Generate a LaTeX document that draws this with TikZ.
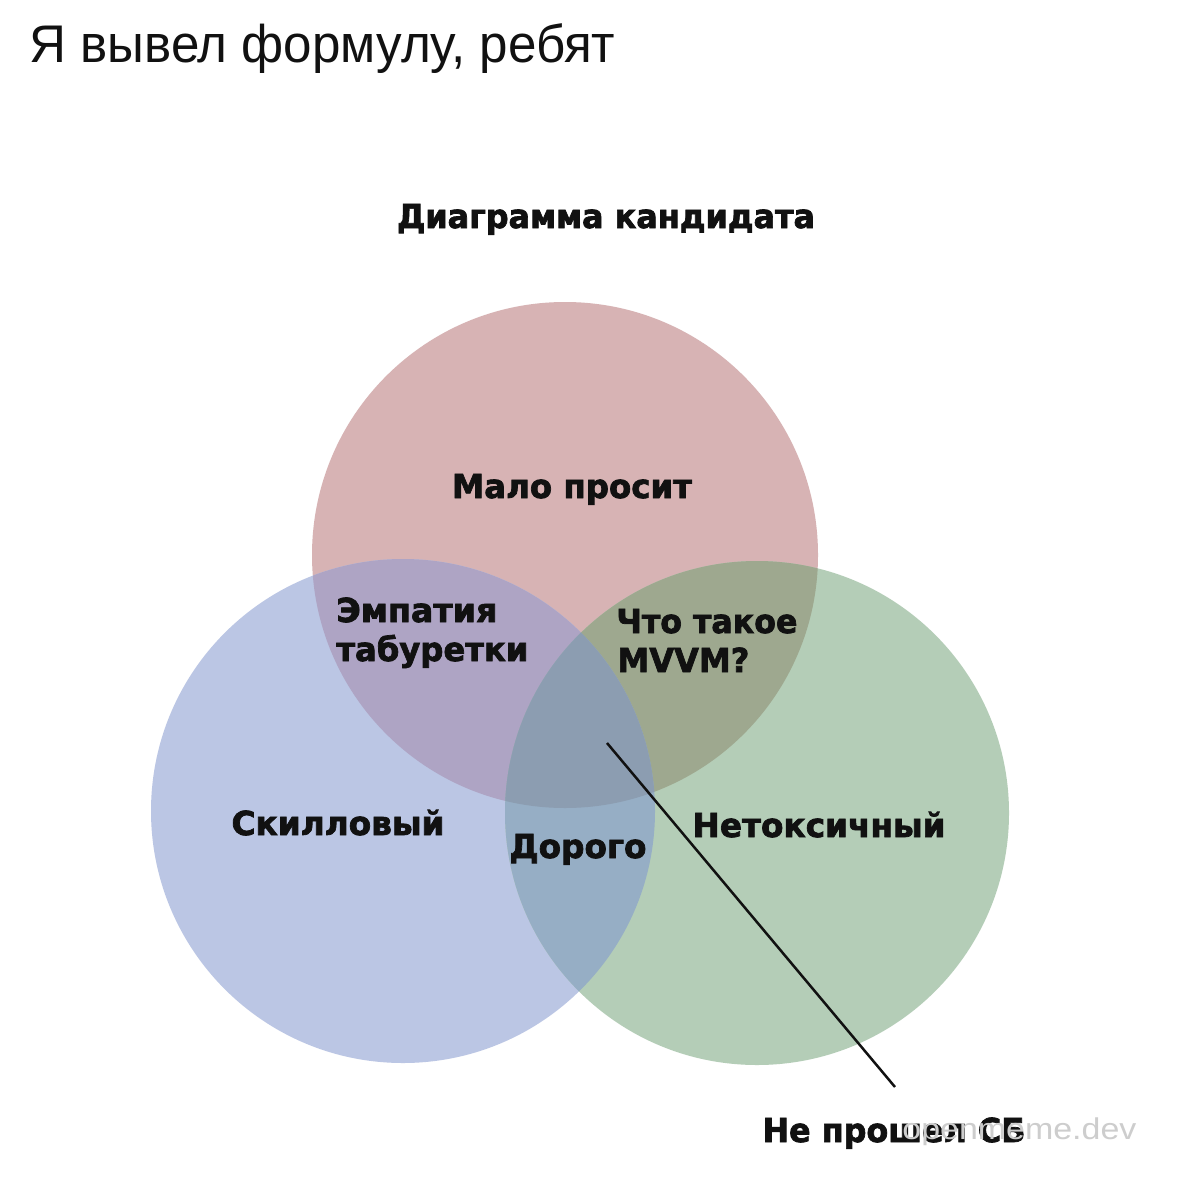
\documentclass[tikz,border=0pt]{standalone}
\usepackage{fontspec}
\usepackage{graphicx}
\setmainfont{Liberation Sans}
\newfontfamily\lblfont{DejaVu Sans}[BoldFeatures={FakeBold=2.2}]
\newlength\fitlen
\newcommand\fitw[2]{\settowidth{\fitlen}{#2}\pgfmathsetmacro{\fitsx}{#1/\fitlen}\scalebox{\fitsx}[1]{#2}}
\definecolor{cred}{RGB}{215,179,180}
\definecolor{cblue}{RGB}{187,198,228}
\definecolor{cgreen}{RGB}{180,205,183}
\definecolor{crb}{RGB}{174,164,196}
\definecolor{crg}{RGB}{158,168,143}
\definecolor{cbg}{RGB}{150,174,197}
\definecolor{crbg}{RGB}{140,157,177}
\definecolor{ink}{RGB}{17,17,17}
\definecolor{wmark}{RGB}{205,205,205}
\begin{document}
\begin{tikzpicture}[x=0.5pt,y=-0.5pt,
  lbl/.style={inner sep=0pt,text=ink,font=\lblfont\bfseries\fontsize{16.5pt}{19pt}\selectfont},
  connector/.style={draw=ink,line width=1.25pt}]
\useasboundingbox[fill=white] (0,0) rectangle (1178,1182);
% circles
\def\R{(565,555) circle[radius=126.5pt]}
\def\B{(403,811) circle[radius=126pt]}
\def\G{(757,813) circle[radius=126pt]}
\fill[cred] \R;
\fill[cblue] \B;
\fill[cgreen] \G;
\begin{scope}\clip \R; \fill[crb] \B; \end{scope}
\begin{scope}\clip \R; \fill[crg] \G; \end{scope}
\begin{scope}\clip \B; \fill[cbg] \G; \end{scope}
\begin{scope}\clip \R; \clip \B; \fill[crbg] \G; \end{scope}
% title
\node[inner sep=0pt,anchor=base west,text=ink,font=\fontsize{26.5pt}{30pt}\selectfont] (title) at (29,63) {\fitw{293}{Я вывел формулу, ребят}};
% labels
\node[lbl,anchor=base] (diag) at (606,228) {\fitw{209}{Диаграмма кандидата}};
\node[lbl,anchor=base] (malo) at (572,498) {\fitw{120}{Мало просит}};
\node[lbl,anchor=base west] (emp1) at (336,622) {\fitw{80.5}{Эмпатия}};
\node[lbl,anchor=base west] (emp2) at (336,661) {\fitw{96}{табуретки}};
\node[lbl,anchor=base west] (chto1) at (616,633) {\fitw{90.5}{Что такое}};
\node[lbl,anchor=base west] (chto2) at (617,672) {\fitw{66}{MVVM?}};
\node[lbl,anchor=base] (skill) at (338,835) {\fitw{106.5}{Скилловый}};
\node[lbl,anchor=base] (dorogo) at (578,858) {\fitw{68.5}{Дорого}};
\node[lbl,anchor=base] (netox) at (819,837) {\fitw{126.5}{Нетоксичный}};
\node[lbl,anchor=base] (sb) at (894,1142) {\fitw{131.5}{Не прошел СБ}};
% connector
\coordinate (ls) at (607,743);
\coordinate (le) at (895,1087);
\draw[connector] (ls) -- (le);
% watermark
\node[inner sep=0pt,anchor=base west,text=wmark,font=\fontsize{15pt}{18pt}\selectfont] (wm) at (902,1139) {\fitw{117}{openmeme.dev}};
\end{tikzpicture}
\end{document}
